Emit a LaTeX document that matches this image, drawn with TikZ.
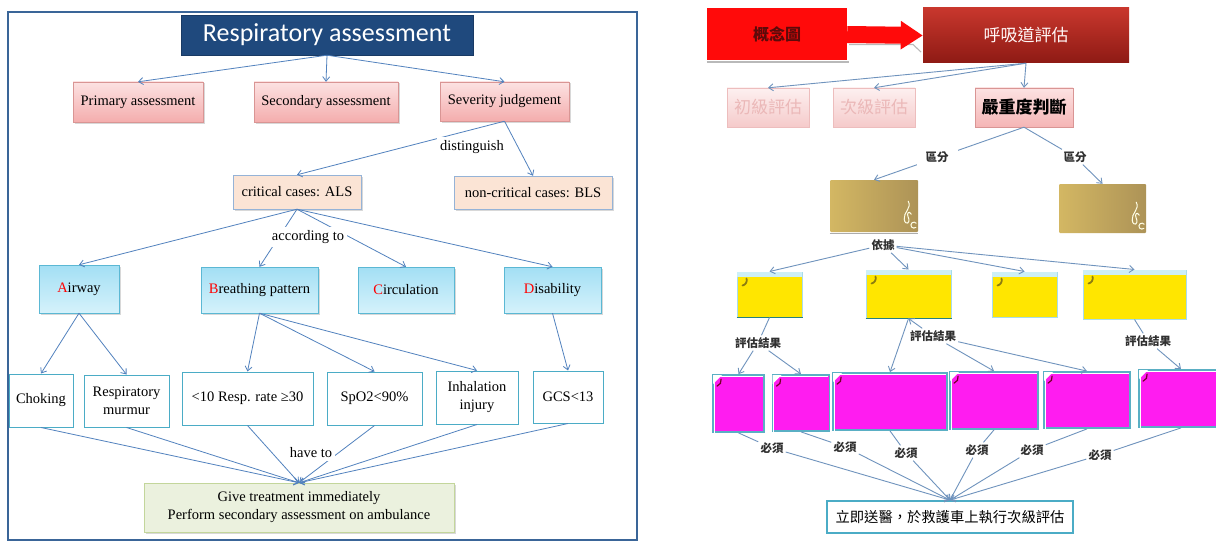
\documentclass[tikz,border=0pt]{standalone}
\usepackage{fontspec}
\setmainfont{Liberation Serif}
\newfontfamily\calfont{Carlito}
\newfontfamily\cjk{Noto Sans CJK TC}
\usetikzlibrary{arrows.meta,shadows}

\definecolor{frameblue}{HTML}{3A6598}
\definecolor{arrblue}{HTML}{5282BE}
\definecolor{ttlblue}{HTML}{1F497D}
\definecolor{pinktop}{HTML}{FCE2E2}
\definecolor{pinkbot}{HTML}{F4ADAD}
\definecolor{pinkline}{HTML}{D99594}
\definecolor{peach}{HTML}{FBE4D5}
\definecolor{peachline}{HTML}{95B3D7}
\definecolor{cyantop}{HTML}{A3DFF4}
\definecolor{cyanbot}{HTML}{D5F2FB}
\definecolor{cyanline}{HTML}{5BB8D4}
\definecolor{tealline}{HTML}{4BACC6}
\definecolor{greenfill}{HTML}{EBF1DE}
\definecolor{greenline}{HTML}{C3D69B}
\definecolor{conred}{HTML}{FF0A0A}
\definecolor{contxt}{HTML}{5C0A0A}
\definecolor{drktop}{HTML}{C8372D}
\definecolor{drkbot}{HTML}{8E1A14}
\definecolor{fadetop}{HTML}{FDF0F0}
\definecolor{fadebot}{HTML}{F5CACA}
\definecolor{fadeline}{HTML}{EDBDBD}
\definecolor{fadetxt}{HTML}{EBB8B8}
\definecolor{goldL}{HTML}{D3B763}
\definecolor{goldR}{HTML}{AD9357}
\definecolor{ylw}{HTML}{FFE600}
\definecolor{ylwedge}{HTML}{A9DCEB}
\definecolor{ylwstrip}{HTML}{CDEFF7}
\definecolor{curl}{HTML}{8C7D10}
\definecolor{mag}{HTML}{FF1CF0}
\definecolor{magedge}{HTML}{5AAFC4}
\definecolor{rarr}{HTML}{6F93BD}
\definecolor{lbltxt}{HTML}{303030}

\newcommand\rd[1]{\textcolor{red}{#1}}
\newcommand\tsz{\fontsize{14.5}{18}\selectfont}
\newcommand\csz[1]{\cjk\fontsize{#1}{#1}\selectfont}

\begin{document}
\begin{tikzpicture}[x=1pt,y=-1pt,
  every node/.style={inner sep=0pt, align=center},
  shd/.style={drop shadow={shadow xshift=1.5pt, shadow yshift=-1.5pt, opacity=0.3}},
  ttl/.style={fill=ttlblue, draw=ttlblue!80!black, text=white,
    font=\calfont\fontsize{26}{28}\selectfont, minimum width=292pt, minimum height=40pt},
  pnk/.style={shd, top color=pinktop, bottom color=pinkbot, draw=pinkline, font=\tsz},
  pch/.style={shd, fill=peach, draw=peachline, font=\tsz},
  cyn/.style={shd, top color=cyantop, bottom color=cyanbot, draw=cyanline, font=\tsz},
  wht/.style={fill=white, draw=tealline, line width=1pt, font=\tsz},
  grn/.style={shd, fill=greenfill, draw=greenline, font=\tsz},
  lbl/.style={fill=white, font=\tsz, inner xsep=3pt, inner ysep=3pt},
  lk/.style={draw=arrblue, line width=0.8pt, -{Straight Barb[length=4.5pt,width=7pt]}},
  % right-hand concept map
  conbox/.style={fill=conred, text=contxt, font=\csz{16}\bfseries,
    minimum width=140pt, minimum height=52pt},
  drkbox/.style={top color=drktop, bottom color=drkbot,
    text=white!88!pink, font=\csz{17}, minimum width=206pt, minimum height=55pt},
  fadebox/.style={top color=fadetop, bottom color=fadebot, draw=fadeline,
    text=fadetxt, font=\csz{17}, minimum width=82pt, minimum height=39pt},
  sevbox/.style={top color=pinktop, bottom color=pinkbot!90!white, draw=pinkline,
    text=black, font=\csz{17}\bfseries, minimum width=98pt, minimum height=39pt},
  goldbox/.style={left color=goldL, right color=goldR, rounded corners=1pt},
  ybox/.style={fill=ylw, draw=ylwedge, line width=1pt},
  mbox/.style={fill=mag, draw=magedge, line width=1.8pt},
  finbox/.style={fill=white, draw=tealline, line width=1.8pt, font=\csz{14.3},
    minimum width=246pt, minimum height=32pt},
  clbl/.style={fill=white, text=lbltxt, font=\csz{11.5}\bfseries, inner sep=2pt},
  rk/.style={draw=rarr, line width=0.9pt, -{Straight Barb[length=4.5pt,width=7pt]}},
  rl/.style={draw=rarr, line width=0.9pt},
  flourish/.style={draw=white!90!yellow, line width=1pt, line cap=round}
]
\useasboundingbox[fill=white] (0,0) rectangle (1216,543);

% ---------------- left panel: English concept map ----------------
\draw[frameblue, line width=1.6pt] (8,12) rectangle (637,540);

\node[ttl] (ra) at (327,35) {Respiratory assessment};

\node[pnk, minimum width=130pt, minimum height=40pt] (pa) at (138,102) {Primary assessment};
\node[pnk, minimum width=144pt, minimum height=40pt] (sa) at (326,102) {Secondary assessment};
\node[pnk, minimum width=129pt, minimum height=39pt] (sj) at (504.5,101.5) {Severity judgement};

\node[pch, minimum width=128pt, minimum height=34pt] (cc) at (297,192) {critical cases: ALS};
\node[pch, minimum width=158pt, minimum height=33pt] (nc) at (533,192.5) {non-critical cases: BLS};

\node[cyn, minimum width=80pt, minimum height=48pt] (aw) at (79,289) {\rd{A}irway};
\node[cyn, minimum width=117pt, minimum height=46pt] (bp) at (259.5,290) {\rd{B}reathing pattern};
\node[cyn, minimum width=96pt, minimum height=46pt] (ci) at (406,290) {\rd{C}irculation};
\node[cyn, minimum width=97pt, minimum height=46pt] (di) at (552.5,290) {\rd{D}isability};

\node[wht, minimum width=64pt, minimum height=53pt] (ch) at (41,400.5) {Choking};
\node[wht, minimum width=85pt, minimum height=52pt] (rm) at (126.5,401) {Respiratory\\murmur};
\node[wht, minimum width=131pt, minimum height=53pt] (rr) at (247.5,398.5) {<10 Resp. rate ≥30};
\node[wht, minimum width=95pt, minimum height=53pt] (sp) at (374.5,398.5) {SpO2<90\%};
\node[wht, minimum width=82pt, minimum height=53pt] (ih) at (477,397.5) {Inhalation\\injury};
\node[wht, minimum width=70pt, minimum height=52pt] (gc) at (568,397) {GCS<13};

\node[grn, minimum width=310pt, minimum height=49pt] (gt) at (299,507.5)
  {Give treatment immediately\\Perform secondary assessment on ambulance};

\foreach \t in {pa,sa,sj} \draw[lk] (ra.south) -- (\t.north);
\draw[lk] (sj.south) -- (cc.north);
\draw[lk] (sj.south) -- (nc.north);
\foreach \t in {aw,bp,ci,di} \draw[lk] (cc.south) -- (\t.north);
\foreach \t in {ch,rm} \draw[lk] (aw.south) -- (\t.north);
\foreach \t in {rr,sp,ih} \draw[lk] (bp.south) -- (\t.north);
\draw[lk] (di.south) -- (gc.north);
\foreach \s in {ch,rm,rr,sp,ih,gc} \draw[lk] (\s.south) -- (gt.north);

\node[lbl] (dst) at (472,147) {distinguish};
\node[lbl] (acc) at (308,237) {according to};
\node[lbl] (hv) at (311,453) {have to};

% ---------------- right panel: Chinese concept map ----------------
\node[conbox] (con) at (777,34.5) {概念圖};
\draw[gray!55, line width=1.5pt] ([yshift=-1.5pt]con.south west) -- ([yshift=-1.5pt, xshift=2pt]con.south east);
\node[drkbox] (ra2) at (1026,35.5) {呼吸道評估};
\draw[gray!55, line width=1.1pt] (849,44.5) -- (913,44.5) -- (921,52);
\draw[conred, line width=17pt, -{Triangle[length=22pt,width=27pt]}] (con.east) -- (ra2.west);

\node[fadebox] (pa2) at (768,107.5) {初級評估};
\node[fadebox] (sa2) at (874,107.5) {次級評估};
\node[sevbox] (sj2) at (1024,107.5) {嚴重度判斷};
\foreach \t in {pa2,sa2,sj2} \draw[rk] (ra2.south) -- (\t.north);

% gold concept boxes with a small white flourish in the lower right
\node[goldbox, minimum width=88pt, minimum height=52pt] (g1) at (874,206) {};
\node[goldbox, minimum width=87pt, minimum height=49pt] (g2) at (1102.5,208.5) {};
\draw[gray!65, line width=1.3pt] ([yshift=-1.5pt]g1.south west) -- ([yshift=-1.5pt]g1.south east);
\foreach \g in {g1,g2} {
  \draw[flourish]
    ([xshift=-10pt,yshift=31pt]\g.south east)
      .. controls ([xshift=-6pt,yshift=24pt]\g.south east) and ([xshift=-15pt,yshift=20pt]\g.south east)
      .. ([xshift=-14pt,yshift=13pt]\g.south east)
      .. controls ([xshift=-13pt,yshift=6pt]\g.south east) and ([xshift=-7pt,yshift=9pt]\g.south east)
      .. ([xshift=-10pt,yshift=15pt]\g.south east)
      .. controls ([xshift=-12pt,yshift=19pt]\g.south east) and ([xshift=-9pt,yshift=22pt]\g.south east)
      .. ([xshift=-7pt,yshift=18pt]\g.south east);
  \draw[flourish]
    ([xshift=-2pt,yshift=9pt]\g.south east) arc[start angle=40, end angle=310, radius=3pt];
}

\draw[rk] (sj2.south) -- (g1.north);
\node[clbl, inner xsep=9pt, inner ysep=4pt] (q1) at (937,157) {區分};
\node[clbl] (q2) at (1075,157) {區分};
\draw[rl] (sj2.south) -- (q2);
\draw[rk] (q2) -- (g2.north);

% yellow concept boxes
\node[ybox, minimum width=65pt, minimum height=45pt] (y1) at (769.5,294.5) {};
\node[ybox, minimum width=85pt, minimum height=48pt] (y2) at (908.5,294) {};
\node[ybox, minimum width=65pt, minimum height=45pt] (y3) at (1024.5,294.5) {};
\node[ybox, minimum width=103pt, minimum height=49pt] (y4) at (1134.5,294.5) {};
\foreach \y in {y1,y2,y3,y4} {
  \fill[ylwstrip] ([xshift=0.5pt,yshift=-0.5pt]\y.north west) rectangle ([xshift=-0.5pt,yshift=-5pt]\y.north east);
  \draw[curl, line width=1.8pt, line cap=round]
    ([xshift=6pt,yshift=-14pt]\y.north west) to[bend right=50] ([xshift=10pt,yshift=-7pt]\y.north west);
}
\foreach \y in {y1,y2} \draw[teal!70!gray, line width=1.2pt] (\y.south west) -- (\y.south east);

\node[clbl] (yj) at (883,245) {依據};
\foreach \t in {y1,y2,y3,y4} \draw[rk] (yj) -- (\t.north);

% magenta concept boxes
\node[mbox, minimum width=51pt, minimum height=57pt] (m1) at (738.5,403.5) {};
\node[mbox, minimum width=57pt, minimum height=56pt] (m2) at (801,403) {};
\node[mbox, minimum width=114pt, minimum height=57pt] (m3) at (890,401.5) {};
\node[mbox, minimum width=88pt, minimum height=57pt] (m4) at (994,400.5) {};
\node[mbox, minimum width=86pt, minimum height=56pt] (m5) at (1087,400) {};
\node[mbox, minimum width=84pt, minimum height=57pt] (m6) at (1181,398.5) {};
\foreach \m in {m1,m2,m3,m4,m5,m6} {
  \draw[white, line width=1pt] ([xshift=2pt,yshift=-2.2pt]\m.south west) -- ([xshift=2pt,yshift=-2.2pt]\m.north west)
    -- ([xshift=-2pt,yshift=-2.2pt]\m.north east);
  \fill[white] ([xshift=1pt,yshift=-1pt]\m.north west) -- ([xshift=10pt,yshift=-1pt]\m.north west)
    -- ([xshift=1pt,yshift=-10pt]\m.north west) -- cycle;
  \draw[purple!60!black, line width=1.2pt, line cap=round]
    ([xshift=5pt,yshift=-12pt]\m.north west) to[bend right=40] ([xshift=9pt,yshift=-5pt]\m.north west);
}

\node[clbl] (e1) at (758,343) {評估結果};
\node[clbl] (e2) at (933,336) {評估結果};
\node[clbl] (e3) at (1148,341) {評估結果};
\draw[rl] (y1.south) -- (e1);
\draw[rk] (e1) -- (m1.north);
\draw[rk] (e1) -- (m2.north);
\draw[rk] (e2) -- (y2.south);
\draw[rk] (y2.south) -- (m3.north);
\draw[rk] (e2) -- (m4.north);
\draw[rk] (e2) -- (m5.north);
\draw[rl] (y4.south) -- (e3);
\draw[rk] (e3) -- (m6.north);

\node[finbox] (fn) at (950,517) {立即送醫，於救護車上執行次級評估};

\node[clbl] (b1) at (772,448) {必須};
\node[clbl] (b2) at (845,447) {必須};
\node[clbl] (b3) at (906,453) {必須};
\node[clbl] (b4) at (977,450) {必須};
\node[clbl] (b5) at (1032,450) {必須};
\node[clbl] (b6) at (1100,455) {必須};
\foreach \i in {1,...,6} {
  \draw[rl] (m\i.south) -- (b\i);
  \draw[rk] (b\i) -- (fn.north);
}
\end{tikzpicture}
\end{document}
